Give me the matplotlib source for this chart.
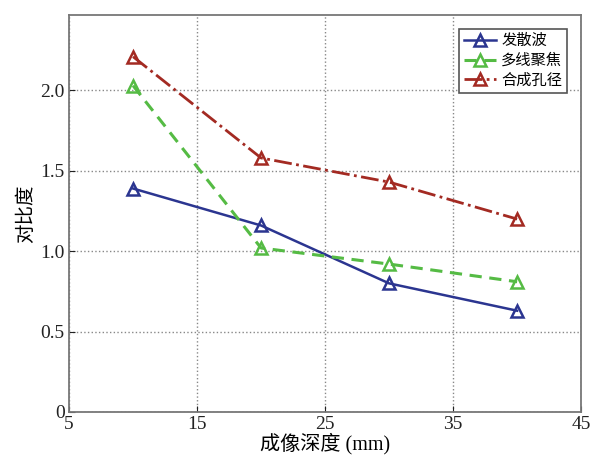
import matplotlib
matplotlib.use('Agg')
import matplotlib.pyplot as plt

# Données
depth = [10, 20, 30, 40]
diverging_wave = [1.39, 1.16, 0.80, 0.63]
multiline_focus = [2.03, 1.02, 0.92, 0.81]
synthetic_aperture = [2.21, 1.58, 1.43, 1.20]
series_names = ['发散波', '多线聚焦', '合成孔径']
x_ticks = [5, 15, 25, 35, 45]
y_ticks = [0, 0.5, 1.0, 1.5, 2.0]
y_tick_labels = ['0', '0.5', '1.0', '1.5', '2.0']

plt.rcParams['font.family'] = ['Liberation Serif', 'Noto Sans CJK SC', 'DejaVu Sans']

fig = plt.figure(figsize=(5.9, 4.65), dpi=100)
ax = fig.add_axes([0.117, 0.114, 0.868, 0.854])

ax.plot(depth, diverging_wave, '-', color='#2b3590', lw=1.8,
        marker='^', ms=8, mfc='none', mew=1.8, label=series_names[0])
ax.plot(depth, multiline_focus, '--', color='#55bb44', lw=2.2, dashes=(4, 2.5),
        marker='^', ms=8, mfc='none', mew=1.8, label=series_names[1])
ax.plot(depth, synthetic_aperture, '-.', color='#a32a22', lw=2.0,
        marker='^', ms=8, mfc='none', mew=1.8, label=series_names[2])

ax.set_xlim(5, 45)
ax.set_ylim(0, 2.47)
ax.set_xticks(x_ticks)
ax.set_yticks(y_ticks)
ax.set_yticklabels(y_tick_labels)
ax.tick_params(direction='in', labelsize=14, colors='#222222', length=4, pad=3)
for s in ax.spines.values():
    s.set_color('#777777')
    s.set_linewidth(1.3)
ax.grid(True, linestyle=':', color='#888888', lw=1.0)

ax.set_xlabel('成像深度 (mm)', fontsize=14.5, labelpad=0)
ax.set_ylabel('对比度', fontsize=14, labelpad=4)

leg = ax.legend(loc='upper right', fontsize=11, fancybox=False, framealpha=1,
                edgecolor='#555555', handlelength=2.1, borderpad=0.35,
                labelspacing=0.35, handletextpad=0.3, borderaxespad=0.9)
leg.get_frame().set_linewidth(1.2)

fig.savefig('out.png', dpi=100)
